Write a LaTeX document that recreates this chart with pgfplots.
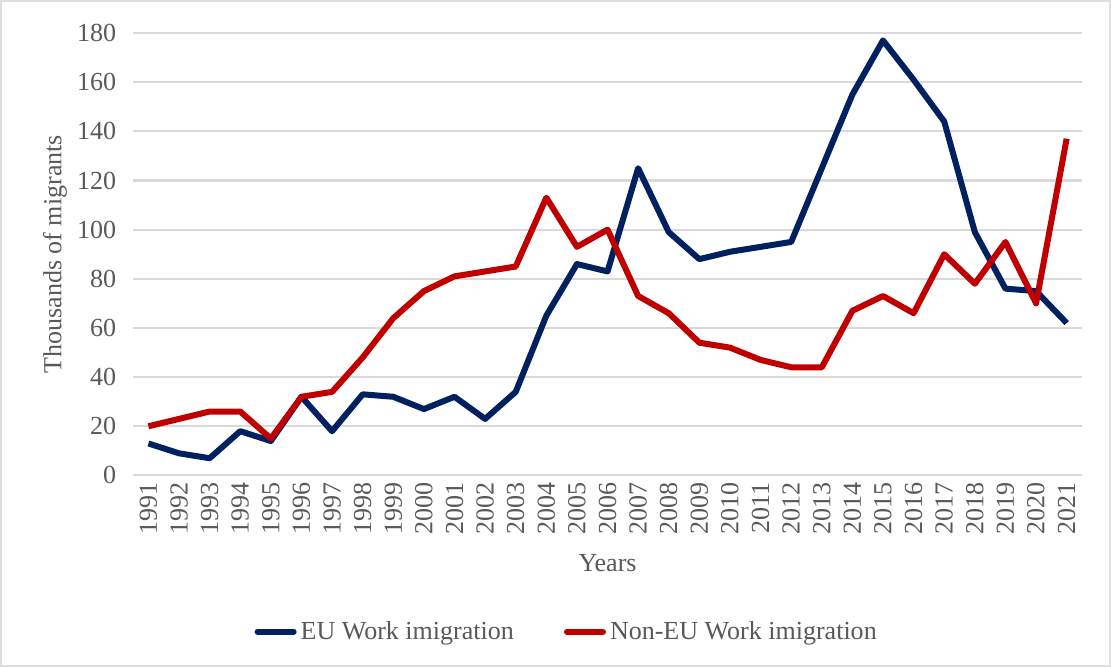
\documentclass[border=0pt]{standalone}
\usepackage{pgfplots}
\pgfplotsset{compat=1.18}
\usepackage{fontspec}
\setmainfont{Liberation Serif}
\definecolor{eublue}{HTML}{002060}
\definecolor{nonred}{HTML}{C00000}
\definecolor{txt}{HTML}{595959}
\definecolor{gridc}{HTML}{D9D9D9}

\begin{document}
\begin{tikzpicture}
\draw[gray!25, line width=0.8pt] (0.4pt,0.4pt) rectangle (554.6pt,332.6pt);
\begin{axis}[
  at={(66.5pt,95.5pt)}, anchor=south west,
  width=474pt, height=221pt, scale only axis,
  xmin=1990.5, xmax=2021.5, ymin=0, ymax=180,
  xtick={1991,...,2021}, ytick={0,20,...,180},
  ymajorgrids, grid style={gridc, line width=1pt},
  axis line style={draw=none},
  major tick length=0,
  font=\fontsize{13}{15}\selectfont,
  /pgf/number format/assume math mode=true,
  /pgf/number format/1000 sep={},
  every tick label/.append style={text=txt},
  xticklabel style={rotate=90, anchor=east},
  yticklabel style={xshift=-5pt},
  xlabel={Years}, ylabel={Thousands of migrants},
  label style={text=txt},
  xlabel style={at={(axis description cs:0.5,-0.199)}, anchor=center},
  ylabel style={at={(axis description cs:-0.0823,0.5)}, anchor=center},
  legend style={at={(axis description cs:0.458,-0.353)}, anchor=center,
    draw=none, text=txt, legend columns=2,
    /tikz/every even column/.append style={column sep=23pt}},
  legend image code/.code={\draw[#1, line width=3pt, line cap=round] (0pt,0pt) -- (18pt,0pt);},
]
\addplot[eublue, line width=3pt, line join=round] coordinates {
(1991,13) (1992,9) (1993,7) (1994,18) (1995,14) (1996,32) (1997,18) (1998,33)
(1999,32) (2000,27) (2001,32) (2002,23) (2003,34) (2004,65) (2005,86) (2006,83)
(2007,125) (2008,99) (2009,88) (2010,91) (2011,93) (2012,95) (2013,125) (2014,155)
(2015,177) (2016,161) (2017,144) (2018,99) (2019,76) (2020,75) (2021,62)};
\addlegendentry{EU Work imigration}
\addplot[nonred, line width=3pt, line join=round] coordinates {
(1991,20) (1992,23) (1993,26) (1994,26) (1995,15) (1996,32) (1997,34) (1998,48)
(1999,64) (2000,75) (2001,81) (2002,83) (2003,85) (2004,113) (2005,93) (2006,100)
(2007,73) (2008,66) (2009,54) (2010,52) (2011,47) (2012,44) (2013,44) (2014,67)
(2015,73) (2016,66) (2017,90) (2018,78) (2019,95) (2020,70) (2021,137)};
\addlegendentry{Non-EU Work imigration}
\end{axis}
\end{tikzpicture}
\end{document}
